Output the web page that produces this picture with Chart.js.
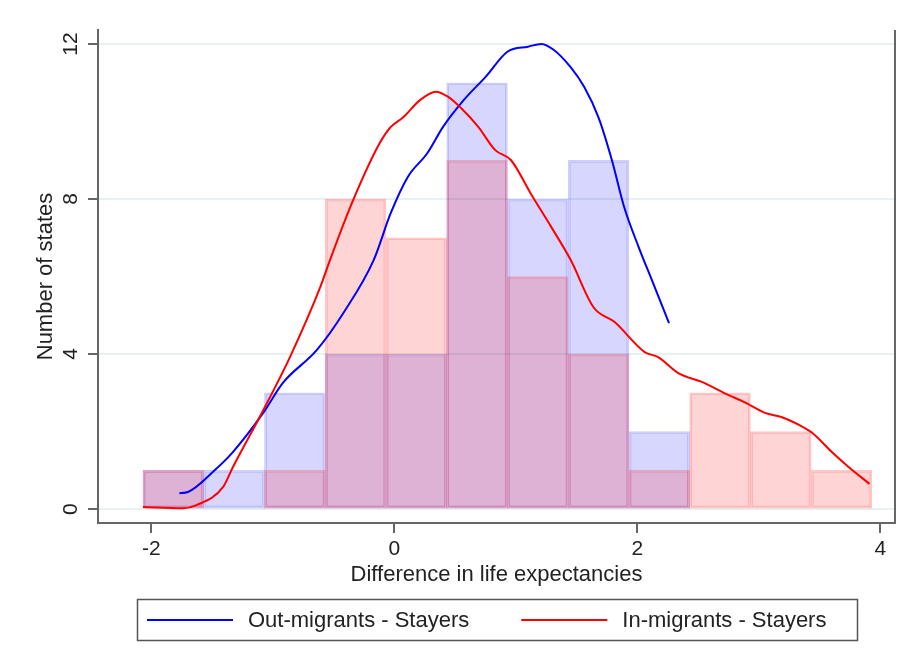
<!DOCTYPE html>
<html>
<head>
<meta charset="utf-8">
<script src="https://cdn.jsdelivr.net/npm/chart.js@4.4.1/dist/chart.umd.min.js"></script>
<style>
  html, body { margin: 0; padding: 0; background: #fff; }
</style>
</head>
<body>
<canvas id="chart" width="912" height="660"></canvas>
<script>
// histogram bins: centres of 0.5-wide bins
const binCenters = [-1.82, -1.32, -0.82, -0.32, 0.18, 0.68, 1.18, 1.68, 2.18, 2.68, 3.18, 3.68];
const outCounts = [1, 1, 3, 4, 4, 11, 8, 9, 2, 0, 0, 0];
const inCounts = [1, 0, 1, 8, 7, 9, 6, 4, 1, 3, 2, 1];

// kernel density curves (in count units)
const outKdeX = [-1.77, -1.70, -1.48, -1.33, -1.08, -0.92, -0.64, -0.42, -0.17, -0.03, 0.11, 0.27, 0.40, 0.57, 0.75, 0.93, 1.10, 1.21, 1.31, 1.45, 1.56, 1.68, 1.79, 1.89, 2.01, 2.12, 2.26];
const outKdeY = [0.41, 0.44, 1.0, 1.47, 2.48, 3.25, 4.1, 5.06, 6.43, 7.64, 8.57, 9.18, 9.86, 10.55, 11.15, 11.8, 11.93, 12.0, 11.85, 11.4, 10.9, 10.1, 9.0, 7.8, 6.76, 5.9, 4.8];
const inKdeX = [-2.07, -1.74, -1.63, -1.41, -1.33, -1.08, -0.86, -0.61, -0.53, -0.34, -0.12, -0.03, 0.07, 0.21, 0.34, 0.44, 0.55, 0.69, 0.83, 0.96, 1.12, 1.29, 1.45, 1.64, 1.81, 2.06, 2.17, 2.34, 2.53, 2.75, 2.88, 3.05, 3.19, 3.33, 3.44, 3.60, 3.74, 3.91];
const inKdeY = [0.05, 0.02, 0.1, 0.57, 1.08, 2.55, 3.92, 5.73, 6.43, 7.97, 9.45, 9.86, 10.1, 10.55, 10.77, 10.64, 10.34, 9.86, 9.26, 9.0, 8.15, 7.28, 6.43, 5.2, 4.83, 4.05, 3.92, 3.5, 3.28, 2.94, 2.76, 2.48, 2.37, 2.17, 1.96, 1.47, 1.08, 0.65];

const xTicks = [-2, 0, 2, 4];
const yTicks = [0, 4, 8, 12];

const seriesLabels = ['Out-migrants - Stayers', 'In-migrants - Stayers'];

const toPoints = (xs, ys) => xs.map((x, i) => ({ x: x, y: ys[i] }));

Chart.defaults.font.family = "'Liberation Sans', Arial, sans-serif";
Chart.defaults.color = '#222';

// right edge of the plot box + boxed legend below the axis title
const frameLegend = {
    id: 'frameLegend',
    afterDraw(chart) {
        const { ctx, chartArea } = chart;
        ctx.save();
        ctx.strokeStyle = '#666';
        ctx.lineWidth = 2;
        ctx.beginPath();
        ctx.moveTo(chartArea.right, chartArea.top);
        ctx.lineTo(chartArea.right, chartArea.bottom + 1);
        ctx.stroke();

        ctx.lineWidth = 1.5;
        ctx.strokeStyle = '#555';
        ctx.strokeRect(137.5, 599.5, 720, 41);

        ctx.font = "22px 'Liberation Sans', Arial, sans-serif";
        ctx.textBaseline = 'middle';
        ctx.textAlign = 'left';
        // legend entries follow the series order, not the draw order
        const lines = seriesLabels.map(l => chart.data.datasets.find(d => d.type === 'line' && d.label === l));
        let x = 147;
        const y = 620;
        lines.forEach(ds => {
            ctx.strokeStyle = ds.borderColor;
            ctx.lineWidth = 2;
            ctx.beginPath();
            ctx.moveTo(x, y);
            ctx.lineTo(x + 86, y);
            ctx.stroke();
            ctx.fillStyle = '#222';
            ctx.fillText(ds.label, x + 101, y + 1);
            x += 101 + ctx.measureText(ds.label).width + 52;
        });
        ctx.restore();
    }
};

new Chart(document.getElementById('chart'), {
    type: 'bar',
    data: {
        datasets: [
            {
                type: 'line',
                label: seriesLabels[1],
                data: toPoints(inKdeX, inKdeY),
                borderColor: '#ff0000',
                borderWidth: 2,
                pointRadius: 0,
                cubicInterpolationMode: 'monotone',
                fill: false,
                order: 0
            },
            {
                type: 'line',
                label: seriesLabels[0],
                data: toPoints(outKdeX, outKdeY),
                borderColor: '#0000ff',
                borderWidth: 2,
                pointRadius: 0,
                cubicInterpolationMode: 'monotone',
                fill: false,
                order: 1
            },
            {
                label: seriesLabels[1] + ' (bins)',
                data: toPoints(binCenters, inCounts),
                backgroundColor: 'rgba(255, 0, 0, 0.17)',
                borderColor: 'rgba(255, 0, 0, 0.22)',
                borderWidth: 2,
                borderSkipped: false,
                grouped: false,
                barPercentage: 1,
                categoryPercentage: 1,
                order: 2
            },
            {
                label: seriesLabels[0] + ' (bins)',
                data: toPoints(binCenters, outCounts),
                backgroundColor: 'rgba(0, 0, 255, 0.16)',
                borderColor: 'rgba(0, 0, 255, 0.19)',
                borderWidth: 2,
                borderSkipped: false,
                grouped: false,
                barPercentage: 1,
                categoryPercentage: 1,
                order: 3
            }
        ]
    },
    options: {
        responsive: false,
        animation: false,
        devicePixelRatio: 1,
        layout: {
            padding: { top: 30, right: 17, bottom: 70, left: 0 }
        },
        plugins: {
            legend: { display: false },
            tooltip: { enabled: false }
        },
        scales: {
            x: {
                type: 'linear',
                offset: false,
                min: -2.44,
                max: 4.12,
                afterBuildTicks: scale => { scale.ticks = xTicks.map(v => ({ value: v })); },
                afterFit: scale => { scale.height = 67; },
                ticks: {
                    font: { size: 21 },
                    color: '#222',
                    padding: 4,
                    maxRotation: 0
                },
                grid: {
                    offset: false,
                    drawOnChartArea: false,
                    drawTicks: true,
                    tickLength: 10,
                    tickColor: '#666',
                    lineWidth: 2
                },
                border: { display: true, color: '#666', width: 2 },
                title: {
                    display: true,
                    text: 'Difference in life expectancies',
                    font: { size: 22 },
                    color: '#222',
                    padding: { top: 0, bottom: 2 }
                }
            },
            y: {
                min: -0.36,
                max: 12.36,
                afterBuildTicks: scale => { scale.ticks = yTicks.map(v => ({ value: v })); },
                afterFit: scale => { scale.width = 98; },
                ticks: {
                    font: { size: 21 },
                    color: '#222',
                    padding: 5,
                    minRotation: 90,
                    maxRotation: 90,
                    crossAlign: 'center'
                },
                grid: {
                    color: '#e9f0f1',
                    lineWidth: 2,
                    tickLength: 10,
                    tickColor: '#666'
                },
                border: { display: true, color: '#666', width: 2 },
                title: {
                    display: true,
                    text: 'Number of states',
                    font: { size: 22 },
                    color: '#222',
                    padding: { top: 33, bottom: 0 }
                }
            }
        }
    },
    plugins: [frameLegend]
});
</script>
</body>
</html>
